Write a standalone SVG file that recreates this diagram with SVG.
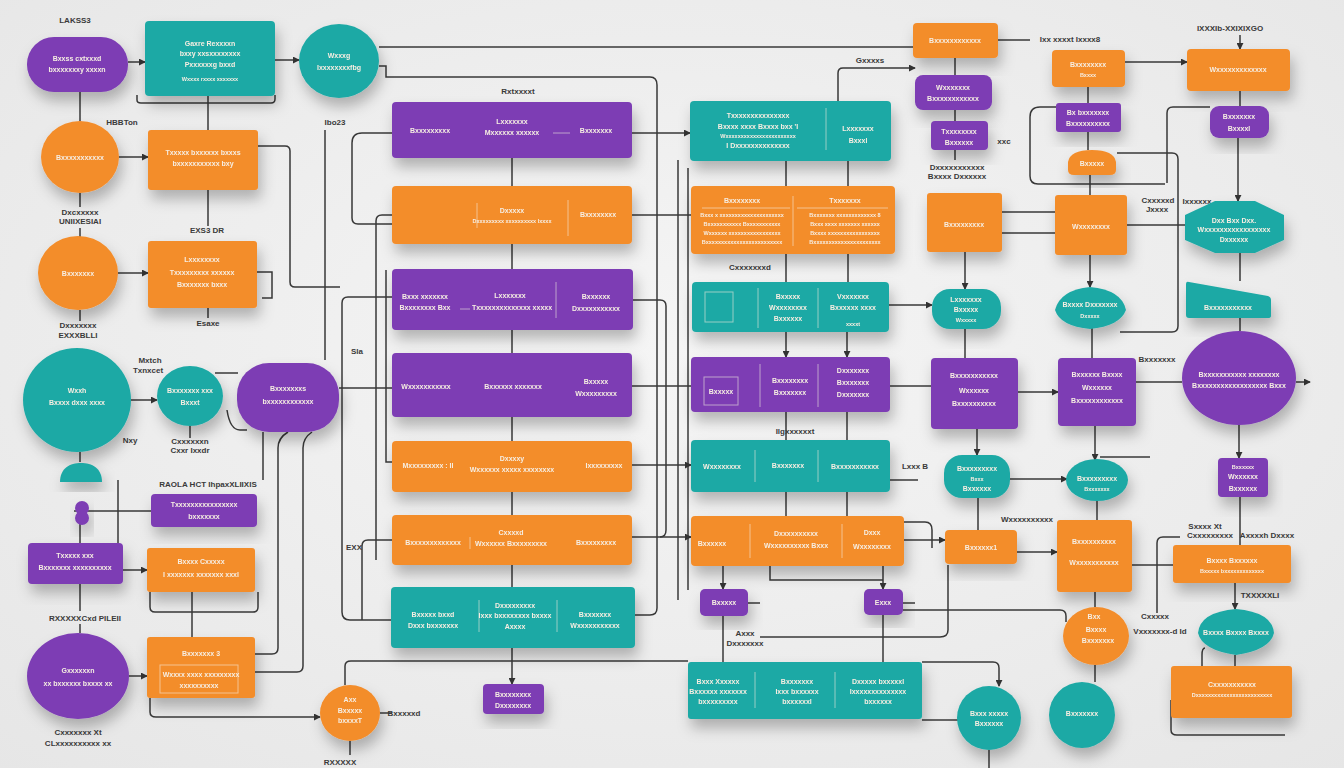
<svg xmlns="http://www.w3.org/2000/svg" width="1344" height="768" viewBox="0 0 1344 768">
<defs>
<radialGradient id="bg" cx="50%" cy="45%" r="75%"><stop offset="0" stop-color="#F5F5F5"/><stop offset="1" stop-color="#E6E6E6"/></radialGradient>
<filter id="sh" x="-30%" y="-30%" width="160%" height="180%"><feDropShadow dx="3" dy="9" stdDeviation="7" flood-color="#000" flood-opacity="0.26"/></filter>
<marker id="ar" viewBox="0 0 8 8" refX="7" refY="4" markerWidth="7" markerHeight="7" markerUnits="userSpaceOnUse" orient="auto"><path d="M0 0 L8 4 L0 8 Z" fill="#333"/></marker>
<style>
.p{fill:#7D3EB4}.t{fill:#1FA9A5}.o{fill:#F38D2C}
.n{filter:url(#sh)}
text{font-family:"Liberation Sans",Arial,sans-serif;font-weight:bold}
.w{fill:#F6EEE2;font-size:7px;text-anchor:middle}
.s{font-size:5.5px}
.l{fill:#3A3A3A;font-size:8px;text-anchor:middle}
.c path{fill:none;stroke:#383838;stroke-width:1.5}
.d{stroke:#F6EEE2;stroke-opacity:0.55;stroke-width:1;fill:none}
</style>
</defs>
<rect width="1344" height="768" fill="url(#bg)"/>

<g class="c" id="connectors">
<path d="M128 62 H145" marker-end="url(#ar)"/>
<path d="M275 60 H299" marker-end="url(#ar)"/>
<path d="M379 47 H913"/>
<path d="M379 66 H386 V77 H650 Q657 77 657 85 V608 Q657 615 650 615 H635"/>
<path d="M80 92 V121"/>
<path d="M208 96 V130"/>
<path d="M137 95 V100 Q137 103 141 103 H271 Q275 103 275 99 V95"/>
<path d="M119 157 H148" marker-end="url(#ar)"/>
<path d="M258 146 H285 Q290 146 290 151 V282 Q290 287 295 287 H340"/>
<path d="M80 193 V207"/>
<path d="M208 190 V226"/>
<path d="M80 228 V237"/>
<path d="M118 273 H148" marker-end="url(#ar)"/>
<path d="M257 272 H272 V298 H262"/>
<path d="M208 308 V318"/>
<path d="M80 310 V321"/>
<path d="M325 130 V360"/>
<path d="M392 133 H362 Q352 133 352 143 V218 Q352 224 358 224 H392"/>
<path d="M392 215 H382 Q376 215 376 221 V560"/>
<path d="M392 297 H348 Q342 297 342 303 V612 Q342 620 350 620 H391"/>
<path d="M339 388 H392"/>
<path d="M392 540 H368 Q362 540 362 546 V620"/>
<path d="M392 462 H386 V270"/>
<path d="M512 158 V186"/><path d="M512 244 V269"/><path d="M512 330 V353"/><path d="M512 417 V441"/><path d="M512 492 V515"/><path d="M512 565 V587"/>
<path d="M512 648 V684" marker-end="url(#ar)"/>
<path d="M632 133 H690" marker-end="url(#ar)"/>
<path d="M632 215 H691"/>
<path d="M632 300 H660 Q666 300 666 306 V530 Q666 537 660 537"/>
<path d="M632 386 H691"/>
<path d="M632 465 H691" marker-end="url(#ar)"/>
<path d="M632 537 H691" marker-end="url(#ar)"/>
<path d="M678 160 V600"/>
<path d="M688 168 V590"/>
<path d="M786 161 V186"/><path d="M848 161 V186"/>
<path d="M786 254 V282"/><path d="M848 254 V282"/>
<path d="M786 332 V357" marker-end="url(#ar)"/><path d="M847 332 V357" marker-end="url(#ar)"/>
<path d="M786 412 V440"/><path d="M847 412 V440"/>
<path d="M786 492 V516"/><path d="M847 492 V516"/>
<path d="M723 566 V589" marker-end="url(#ar)"/><path d="M883 566 V589" marker-end="url(#ar)"/>
<path d="M770 566 V580 H883"/>
<path d="M723 616 V662"/><path d="M883 615 V662"/>
<path d="M748 603 H760"/>
<path d="M903 603 H915"/>
<path d="M838 101 V73 Q838 68 843 68 H915" marker-end="url(#ar)"/>
<path d="M955 58 V75"/><path d="M955 110 V121"/><path d="M955 150 V160"/>
<path d="M965 252 V289" marker-end="url(#ar)"/><path d="M965 329 V358"/>
<path d="M977 429 V455" marker-end="url(#ar)"/><path d="M978 498 V530"/>
<path d="M1088 87 V103"/><path d="M1088 132 V150"/><path d="M1090 175 V195"/>
<path d="M1090 255 V287" marker-end="url(#ar)"/><path d="M1092 328 V358"/>
<path d="M1095 426 V460" marker-end="url(#ar)"/><path d="M1097 501 V520"/>
<path d="M1095 592 V607"/><path d="M1095 665 V682"/>
<path d="M1240 35 V49" marker-end="url(#ar)"/><path d="M1240 91 V106"/>
<path d="M1238 138 V201" marker-end="url(#ar)"/><path d="M1240 253 V281"/>
<path d="M1240 318 V331"/><path d="M1239 425 V458" marker-end="url(#ar)"/>
<path d="M1240 497 V545"/><path d="M1235 583 V609" marker-end="url(#ar)"/><path d="M1235 655 V666"/>
<path d="M998 40 H1030"/>
<path d="M1125 62 H1187" marker-end="url(#ar)"/>
<path d="M1057 107 H1040 Q1030 107 1030 117 V176 Q1030 184 1038 184 H1165"/>
<path d="M1117 153 H1172 Q1178 153 1178 159 V326 Q1178 332 1172 332 H1120"/>
<path d="M1210 107 H1173 Q1167 107 1167 113 V183"/>
<path d="M1002 212 H1055"/>
<path d="M1002 233 H1055"/>
<path d="M1127 225 H1185"/>
<path d="M889 305 H932" marker-end="url(#ar)"/>
<path d="M890 386 H931"/>
<path d="M1018 392 H1058" marker-end="url(#ar)"/>
<path d="M1136 382 H1182"/>
<path d="M1296 382 H1310" marker-end="url(#ar)"/>
<path d="M1010 479 H1067" marker-end="url(#ar)"/>
<path d="M1100 457 H1150"/>
<path d="M890 480 H918"/>
<path d="M1017 552 H1057" marker-end="url(#ar)"/>
<path d="M904 540 H945" marker-end="url(#ar)"/>
<path d="M904 522 H925 Q932 522 932 530 V548"/>
<path d="M760 637 H940 Q948 637 948 630 V565"/>
<path d="M903 610 H1060 Q1066 610 1066 616 V622"/>
<path d="M922 662 H993 Q999 662 999 668 V686" marker-end="url(#ar)"/>
<path d="M922 720 H958"/>
<path d="M1157 613 V543 Q1157 537 1163 537 H1180"/>
<path d="M1132 565 H1173"/>
<path d="M1205 648 Q1202 648 1202 655 V666"/>
<path d="M1171 700 V730 Q1171 735 1177 735 H1285"/>
<path d="M131 400 H157" marker-end="url(#ar)"/>
<path d="M215 373 H238"/>
<path d="M227 410 Q230 430 240 430 H247"/>
<path d="M190 426 V438"/>
<path d="M80 452 V462"/>
<path d="M263 432 V480"/>
<path d="M288 432 Q278 438 278 448 V648 Q278 654 272 654 H255"/>
<path d="M312 432 Q303 438 303 448 V666 Q303 672 297 672 H255"/>
<path d="M118 480 V543"/>
<path d="M74 511 H151"/>
<path d="M80 521 V543"/>
<path d="M123 570 H147" marker-end="url(#ar)"/>
<path d="M150 592 V607 Q150 612 155 612 H253 Q258 612 258 607 V592"/>
<path d="M192 592 V637"/>
<path d="M80 584 V611"/><path d="M80 624 V633"/>
<path d="M129 676 H147" marker-end="url(#ar)"/>
<path d="M150 698 V712 Q150 717 156 717 H320" marker-end="url(#ar)"/>
<path d="M345 685 V666 Q345 661 351 661 H688"/>
<path d="M350 741 V755"/>
<path d="M380 713 H392"/>
<path d="M989 750 V768"/>
</g>

<g id="labels">
<text class="l" x="75" y="23">LAKSS3</text>
<text class="l" x="122" y="125">HBBTon</text>
<text class="l" x="80" y="215">Dxcxxxxx</text>
<text class="l" x="80" y="224">UNIIXESIAI</text>
<text class="l" x="207" y="233">EXS3 DR</text>
<text class="l" x="78" y="328">Dxxxxxxx</text>
<text class="l" x="78" y="338">EXXXBLLI</text>
<text class="l" x="208" y="326">Esaxe</text>
<text class="l" x="335" y="125">Ibo23</text>
<text class="l" x="150" y="363">Mxtch</text>
<text class="l" x="148" y="373">Txnxcet</text>
<text class="l" x="130" y="443">Nxy</text>
<text class="l" x="190" y="444">Cxxxxxxn</text>
<text class="l" x="190" y="453">Cxxr Ixxdr</text>
<text class="l" x="357" y="354">Sla</text>
<text class="l" x="208" y="487">RAOLA HCT IhpaxXLIIXIS</text>
<text class="l" x="85" y="621">RXXXXXCxd PILEII</text>
<text class="l" x="78" y="735">Cxxxxxxx Xt</text>
<text class="l" x="78" y="746">CLxxxxxxxxxx xx</text>
<text class="l" x="518" y="94">Rxtxxxxt</text>
<text class="l" x="404" y="716">Bxxxxxd</text>
<text class="l" x="340" y="765">RXXXXX</text>
<text class="l" x="354" y="550">EXX</text>
<text class="l" x="750" y="270">Cxxxxxxxd</text>
<text class="l" x="795" y="434">Ilgxxxxxxt</text>
<text class="l" x="745" y="636">Axxx</text>
<text class="l" x="745" y="646">Dxxxxxxx</text>
<text class="l" x="870" y="63">Gxxxxs</text>
<text class="l" x="1070" y="42">Ixx xxxxt Ixxxx8</text>
<text class="l" x="1230" y="31">IXXXIb-XXIXIXGO</text>
<text class="l" x="1004" y="144">xxc</text>
<text class="l" x="957" y="170">Dxxxxxxxxxxx</text>
<text class="l" x="957" y="179">Bxxxx Dxxxxxx</text>
<text class="l" x="1158" y="203">Cxxxxxd</text>
<text class="l" x="1157" y="212">Jxxxx</text>
<text class="l" x="1197" y="204">Ixxxxxx</text>
<text class="l" x="1157" y="362">Bxxxxxxx</text>
<text class="l" x="915" y="469">Lxxx B</text>
<text class="l" x="1027" y="522">Wxxxxxxxxxx</text>
<text class="l" x="1205" y="529">Sxxxx Xt</text>
<text class="l" x="1210" y="538">Cxxxxxxxxx</text>
<text class="l" x="1267" y="538">Axxxxh Dxxxx</text>
<text class="l" x="1260" y="598">TXXXXXLI</text>
<text class="l" x="1155" y="619">Cxxxxx</text>
<text class="l" x="1160" y="634">Vxxxxxxx-d Id</text>
</g>

<g id="n1" class="n"><rect class="p" x="27" y="37" width="101" height="55" rx="27"/><text class="w"><tspan x="77" y="61">Bxxss cxtxxxd</tspan><tspan x="77" y="72">bxxxxxxxy xxxxn</tspan></text></g>
<g id="n2" class="n"><rect class="t" x="145" y="21" width="130" height="75" rx="4"/><text class="w"><tspan x="210" y="46">Gaxre Rexxxxn</tspan><tspan x="210" y="56">bxxy xxsxxxxxxxx</tspan><tspan x="210" y="67">Pxxxxxxg bxxd</tspan><tspan class="s" x="210" y="81">Wxxxx rxxxx xxxxxxx</tspan></text></g>
<g id="n3" class="n"><ellipse class="t" cx="339" cy="61" rx="40" ry="37"/><text class="w"><tspan x="339" y="58">Wxxxg</tspan><tspan x="339" y="70">Ixxxxxxxxfbg</tspan></text></g>
<g id="n4" class="n"><ellipse class="o" cx="80" cy="157" rx="39" ry="36"/><text class="w" x="80" y="160">Bxxxxxxxxxxx</text></g>
<g id="n5" class="n"><rect class="o" x="148" y="130" width="110" height="60" rx="3"/><text class="w"><tspan x="203" y="155">Txxxxx bxxxxxx bxxxs</tspan><tspan x="203" y="166">bxxxxxxxxxxx bxy</tspan></text></g>
<g id="n7" class="n"><ellipse class="o" cx="78" cy="273" rx="40" ry="37"/><text class="w" x="78" y="276">Bxxxxxxx</text></g>
<g id="n8" class="n"><rect class="o" x="148" y="241" width="109" height="67" rx="3"/><text class="w"><tspan x="202" y="262">Lxxxxxxxx</tspan><tspan x="202" y="275">Txxxxxxxxx xxxxxx</tspan><tspan x="202" y="287">Bxxxxxxx bxxx</tspan></text></g>
<g id="n10" class="n"><ellipse class="t" cx="77" cy="400" rx="54" ry="52"/><text class="w"><tspan x="77" y="393">Wxxh</tspan><tspan x="77" y="405">Bxxxx dxxx xxxx</tspan></text></g>
<g id="n11" class="n"><path class="t" d="M60 482 C60 468 70 463 81 463 C92 463 102 468 102 482 Z"/></g>
<g id="n12" class="n"><ellipse class="t" cx="190" cy="396" rx="33" ry="30"/><text class="w"><tspan x="190" y="393">Bxxxxxxx xxx</tspan><tspan x="190" y="405">Bxxxt</tspan></text></g>
<g id="n13" class="n"><rect class="p" x="237" y="363" width="102" height="69" rx="32"/><text class="w"><tspan x="288" y="391">Bxxxxxxxs</tspan><tspan x="288" y="404">bxxxxxxxxxxxx</tspan></text></g>
<g id="n14" class="n"><rect class="p" x="151" y="494" width="106" height="33" rx="4"/><text class="w"><tspan x="204" y="507">Txxxxxxxxxxxxxxxx</tspan><tspan x="204" y="519">bxxxxxxx</tspan></text></g>
<g id="n15" class="n"><circle class="p" cx="82" cy="508" r="7"/><circle class="p" cx="82" cy="518" r="7"/></g>
<g id="n16" class="n"><rect class="p" x="28" y="543" width="95" height="41" rx="4"/><text class="w"><tspan x="75" y="558">Txxxxx xxx</tspan><tspan x="75" y="570">Bxxxxxxx xxxxxxxxxx</tspan></text></g>
<g id="n17" class="n"><rect class="o" x="147" y="548" width="108" height="44" rx="3"/><text class="w"><tspan x="201" y="564">Bxxxx Cxxxxx</tspan><tspan x="201" y="577">I xxxxxxx xxxxxxx xxxl</tspan></text></g>
<g id="n19" class="n"><ellipse class="p" cx="78" cy="676" rx="51" ry="43"/><text class="w"><tspan x="78" y="673">Gxxxxxxn</tspan><tspan x="78" y="686">xx bxxxxxx bxxxx xx</tspan></text></g>
<g id="n20" class="n"><rect class="o" x="147" y="637" width="108" height="61" rx="3"/><rect class="d" x="160" y="665" width="78" height="28"/><text class="w"><tspan x="201" y="656">Bxxxxxxx 3</tspan><tspan x="201" y="677">Wxxxx xxxx xxxxxxxxx</tspan><tspan x="199" y="688">xxxxxxxxxx</tspan></text></g>
<g id="n22" class="n"><ellipse class="o" cx="350" cy="713" rx="30" ry="28"/><text class="w"><tspan x="350" y="702">Axx</tspan><tspan x="350" y="713">Bxxxxx</tspan><tspan x="350" y="723">bxxxxT</tspan></text></g>

<g id="n24" class="n"><rect class="p" x="392" y="102" width="240" height="56" rx="4"/><path class="d" d="M553 133 H570"/><text class="w"><tspan x="430" y="133">Bxxxxxxxxx</tspan><tspan x="512" y="124">Lxxxxxxx</tspan><tspan x="512" y="135">Mxxxxxx xxxxxx</tspan><tspan x="596" y="133">Bxxxxxxx</tspan></text></g>
<g id="n25" class="n"><rect class="o" x="392" y="186" width="240" height="58" rx="4"/><path class="d" d="M477 203 V228 M568 200 V236"/><text class="w"><tspan x="512" y="213">Dxxxxx</tspan><tspan class="s" x="512" y="223">Dxxxxxxxxx xxxxxxxxxx Ixxxx</tspan><tspan x="598" y="217">Bxxxxxxxx</tspan></text></g>
<g id="n26" class="n"><rect class="p" x="392" y="269" width="241" height="61" rx="4"/><path class="d" d="M556 282 V318 M460 309 H470"/><text class="w"><tspan x="425" y="299">Bxxx xxxxxxx</tspan><tspan x="425" y="310">Bxxxxxxxx Bxx</tspan><tspan x="510" y="298">Lxxxxxxx</tspan><tspan x="512" y="310">Txxxxxxxxxxxxxx xxxxx</tspan><tspan x="596" y="299">Bxxxxxx</tspan><tspan x="596" y="311">Dxxxxxxxxxxx</tspan></text></g>
<g id="n27" class="n"><rect class="p" x="392" y="353" width="240" height="64" rx="4"/><text class="w"><tspan x="426" y="389">Wxxxxxxxxxxx</tspan><tspan x="513" y="389">Bxxxxxx xxxxxxx</tspan><tspan x="596" y="384">Bxxxxx</tspan><tspan x="596" y="396">Wxxxxxxxxx</tspan></text></g>
<g id="n28" class="n"><rect class="o" x="392" y="441" width="240" height="51" rx="4"/><text class="w"><tspan x="428" y="468">Mxxxxxxxxx : II</tspan><tspan x="512" y="461">Dxxxxy</tspan><tspan x="512" y="472">Wxxxxxx xxxxx xxxxxxxx</tspan><tspan x="604" y="468">Ixxxxxxxxx</tspan></text></g>
<g id="n29" class="n"><rect class="o" x="392" y="515" width="240" height="50" rx="4"/><path class="d" d="M470 537 V549"/><text class="w"><tspan x="433" y="545">Bxxxxxxxxxxxxx</tspan><tspan x="511" y="535">Cxxxxd</tspan><tspan x="511" y="546">Wxxxxxx Bxxxxxxxxx</tspan><tspan x="596" y="545">Bxxxxxxxxx</tspan></text></g>
<g id="n30" class="n"><rect class="t" x="391" y="587" width="244" height="61" rx="4"/><path class="d" d="M479 600 V632 M557 600 V632"/><text class="w"><tspan x="433" y="617">Bxxxxx bxxd</tspan><tspan x="433" y="628">Dxxx bxxxxxxx</tspan><tspan x="515" y="608">Dxxxxxxxxx</tspan><tspan x="515" y="618">Ixxx bxxxxxxxx bxxxx</tspan><tspan x="515" y="629">Axxxx</tspan><tspan x="595" y="617">Bxxxxxxx</tspan><tspan x="595" y="628">Wxxxxxxxxxxx</tspan></text></g>
<g id="n31" class="n"><rect class="p" x="483" y="684" width="61" height="30" rx="4"/><text class="w"><tspan x="513" y="697">Bxxxxxxxx</tspan><tspan x="513" y="708">Dxxxxxxxx</tspan></text></g>

<g id="n32" class="n"><rect class="t" x="690" y="101" width="201" height="60" rx="4"/><path class="d" d="M826 108 V150"/><text class="w"><tspan x="758" y="118">Txxxxxxxxxxxxxxx</tspan><tspan x="758" y="129">Bxxxx xxxx Bxxxx bxx 'I</tspan><tspan class="s" x="758" y="138">Wxxxxxxxxxxxxxxxxxxxxxxx</tspan><tspan x="758" y="148">I Dxxxxxxxxxxxxxx</tspan><tspan x="858" y="131">Lxxxxxxx</tspan><tspan x="858" y="143">Bxxxl</tspan></text></g>
<g id="n33" class="n"><rect class="o" x="691" y="186" width="204" height="68" rx="4"/><path class="d" d="M793 196 V246 M702 208 H790 M797 208 H888"/><text class="w"><tspan x="742" y="203">Bxxxxxxxx</tspan><tspan x="845" y="203">Txxxxxxx</tspan><tspan class="s" x="742" y="217">Bxxx x xxxxxxxxxxxxxxxxxxxxx</tspan><tspan class="s" x="742" y="226">Bxxxxxxxxxxx Bxxxxxxxxxxx</tspan><tspan class="s" x="742" y="235">Wxxxxxx xxxxxxxxxxxxxxxxx</tspan><tspan class="s" x="742" y="244">Bxxxxxxxxxxxxxxxxxxxxxxxxx</tspan><tspan class="s" x="845" y="217">Bxxxxxxx xxxxxxxxxxxxx 8</tspan><tspan class="s" x="845" y="226">Bxxx xxxx xxxxxxx xxxxxx</tspan><tspan class="s" x="845" y="235">Bxxxx xxxxxxxxxxxxxxxxx</tspan><tspan class="s" x="845" y="244">Bxxxxxxxxxxxxxxxxxxxxxx</tspan></text></g>
<g id="n35" class="n"><rect class="t" x="692" y="282" width="197" height="50" rx="4"/><rect class="d" x="705" y="292" width="28" height="30"/><path class="d" d="M758 288 V328 M818 288 V328"/><text class="w"><tspan x="788" y="299">Bxxxxx</tspan><tspan x="788" y="310">Wxxxxxxxx</tspan><tspan x="788" y="321">Bxxxxxx</tspan><tspan x="853" y="299">Vxxxxxxx</tspan><tspan x="853" y="310">Bxxxxxx xxxx</tspan><tspan class="s" x="853" y="326">xxxxt</tspan></text></g>
<g id="n36" class="n"><rect class="p" x="691" y="357" width="199" height="55" rx="4"/><rect class="d" x="704" y="377" width="34" height="28"/><path class="d" d="M760 364 V407 M818 364 V407"/><text class="w"><tspan x="721" y="394">Bxxxxx</tspan><tspan x="790" y="383">Bxxxxxxxx</tspan><tspan x="790" y="395">Bxxxxxxx</tspan><tspan x="853" y="373">Dxxxxxxx</tspan><tspan x="853" y="385">Bxxxxxxx</tspan><tspan x="853" y="397">Dxxxxxxx</tspan></text></g>
<g id="n38" class="n"><rect class="t" x="691" y="440" width="199" height="52" rx="4"/><path class="d" d="M755 450 V482 M818 450 V482"/><text class="w"><tspan x="722" y="469">Wxxxxxxxx</tspan><tspan x="788" y="468">Bxxxxxxx</tspan><tspan x="855" y="469">Bxxxxxxxxxxx</tspan></text></g>
<g id="n39" class="n"><rect class="o" x="691" y="516" width="213" height="50" rx="4"/><path class="d" d="M750 524 V558 M842 524 V558"/><text class="w"><tspan x="712" y="546">Bxxxxxx</tspan><tspan x="796" y="536">Dxxxxxxxxxx</tspan><tspan x="796" y="548">Wxxxxxxxxxx Bxxx</tspan><tspan x="872" y="535">Dxxx</tspan><tspan x="872" y="549">Wxxxxxxxx</tspan></text></g>
<g id="n40a" class="n"><rect class="p" x="700" y="589" width="48" height="27" rx="5"/><text class="w" x="724" y="605">Bxxxxx</text></g>
<g id="n40b" class="n"><rect class="p" x="864" y="589" width="39" height="26" rx="5"/><text class="w" x="883" y="605">Exxx</text></g>
<g id="n42" class="n"><rect class="t" x="688" y="662" width="234" height="57" rx="3"/><path class="d" d="M755 672 V708 M835 672 V708"/><text class="w"><tspan x="718" y="684">Bxxx Xxxxxx</tspan><tspan x="718" y="694">Bxxxxxx xxxxxxx</tspan><tspan x="718" y="704">bxxxxxxxxx</tspan><tspan x="797" y="684">Bxxxxxxx</tspan><tspan x="797" y="694">Ixxx bxxxxxx</tspan><tspan x="797" y="704">bxxxxxxl</tspan><tspan x="878" y="684">Dxxxxx bxxxxxl</tspan><tspan x="878" y="694">Ixxxxxxxxxxxxxx</tspan><tspan x="878" y="704">bxxxxxx</tspan></text></g>

<g id="n43" class="n"><rect class="o" x="913" y="23" width="85" height="35" rx="4"/><text class="w" x="955" y="43">Bxxxxxxxxxxxx</text></g>
<g id="n44" class="n"><rect class="p" x="915" y="75" width="77" height="35" rx="8"/><text class="w"><tspan x="953" y="90">Wxxxxxxx</tspan><tspan x="953" y="101">Bxxxxxxxxxxxx</tspan></text></g>
<g id="n45" class="n"><rect class="p" x="931" y="121" width="57" height="29" rx="4"/><text class="w"><tspan x="959" y="134">Txxxxxxxx</tspan><tspan x="959" y="145">Bxxxxxx</tspan></text></g>
<g id="n47" class="n"><rect class="o" x="927" y="193" width="75" height="59" rx="3"/><text class="w" x="964" y="227">Bxxxxxxxxx</text></g>
<g id="n50" class="n"><rect class="o" x="1052" y="50" width="73" height="37" rx="4"/><text class="w"><tspan x="1088" y="67">Bxxxxxxxx</tspan><tspan class="s" x="1088" y="77">Bxxxx</tspan></text></g>
<g id="n51" class="n"><rect class="p" x="1056" y="103" width="65" height="29" rx="3"/><text class="w"><tspan x="1088" y="115">Bx bxxxxxxx</tspan><tspan x="1088" y="126">Bxxxxxxxxxx</tspan></text></g>
<g id="n52" class="n"><path class="o" d="M1068 170 V162 Q1070 150 1092 150 Q1114 150 1116 162 V170 Q1116 175 1110 175 H1074 Q1068 175 1068 170 Z"/><text class="w" x="1092" y="166">Bxxxxx</text></g>
<g id="n53" class="n"><rect class="o" x="1055" y="195" width="72" height="60" rx="3"/><text class="w" x="1091" y="229">Wxxxxxxxx</text></g>
<g id="n55" class="n"><rect class="o" x="1187" y="49" width="103" height="42" rx="4"/><text class="w" x="1238" y="72">Wxxxxxxxxxxxxx</text></g>
<g id="n56" class="n"><rect class="p" x="1210" y="106" width="59" height="32" rx="9"/><text class="w"><tspan x="1239" y="119">Bxxxxxxx</tspan><tspan x="1239" y="131">Bxxxxl</tspan></text></g>
<g id="n57" class="n"><path class="t" d="M1185 215 L1215 201 H1255 L1284 215 V240 L1255 253 H1215 L1185 240 Z"/><text class="w"><tspan x="1234" y="223">Dxx Bxx Dxx.</tspan><tspan x="1234" y="232">Wxxxxxxxxxxxxxxxxx</tspan><tspan x="1234" y="242">Dxxxxxx</tspan></text></g>
<g id="n58" class="n"><rect class="t" x="932" y="289" width="69" height="40" rx="18"/><text class="w"><tspan x="966" y="302">Lxxxxxxx</tspan><tspan x="966" y="312">Bxxxxx</tspan><tspan class="s" x="966" y="322">Wxxxxx</tspan></text></g>
<g id="n59" class="n"><path class="t" d="M1055 310 Q1060 290 1090 287 Q1122 290 1126 310 Q1120 326 1090 329 Q1060 326 1055 310 Z"/><text class="w"><tspan x="1090" y="307">Bxxxx Dxxxxxxx</tspan><tspan class="s" x="1090" y="318">Dxxxxx</tspan></text></g>
<g id="n60" class="n"><path class="t" d="M1186 284 Q1186 281 1189 282 L1268 296 Q1271 297 1271 300 V316 Q1271 318 1268 318 H1189 Q1186 318 1186 315 Z"/><text class="w" x="1228" y="310">Bxxxxxxxxxxx</text></g>
<g id="n61" class="n"><rect class="p" x="931" y="358" width="87" height="71" rx="4"/><text class="w"><tspan x="974" y="378">Bxxxxxxxxxxx</tspan><tspan x="974" y="393">Wxxxxxx</tspan><tspan x="974" y="406">Bxxxxxxxxxx</tspan></text></g>
<g id="n62" class="n"><rect class="p" x="1058" y="358" width="78" height="68" rx="4"/><text class="w"><tspan x="1097" y="377">Bxxxxxx Bxxxx</tspan><tspan x="1097" y="390">Wxxxxxx</tspan><tspan x="1097" y="403">Bxxxxxxxxxxxx</tspan></text></g>
<g id="n63" class="n"><ellipse class="p" cx="1239" cy="378" rx="57" ry="47"/><text class="w"><tspan x="1239" y="377">Bxxxxxxxxxxx xxxxxxxx</tspan><tspan x="1239" y="388">Bxxxxxxxxxxxxxxxxxx Bxxx</tspan></text></g>
<g id="n64" class="n"><rect class="t" x="944" y="455" width="66" height="43" rx="18"/><text class="w"><tspan x="977" y="471">Bxxxxxxxxx</tspan><tspan class="s" x="977" y="481">Bxxx</tspan><tspan x="977" y="491">Bxxxxxx</tspan></text></g>
<g id="n65" class="n"><ellipse class="t" cx="1097" cy="480" rx="31" ry="21"/><text class="w"><tspan x="1097" y="481">Bxxxxxxxxx</tspan><tspan class="s" x="1097" y="491">Bxxxxxxx</tspan></text></g>
<g id="n66" class="n"><rect class="p" x="1218" y="458" width="50" height="39" rx="4"/><text class="w"><tspan class="s" x="1243" y="469">Bxxxxxx</tspan><tspan x="1243" y="479">Wxxxxxx</tspan><tspan x="1243" y="491">Bxxxxxx</tspan></text></g>
<g id="n68" class="n"><rect class="o" x="945" y="530" width="72" height="34" rx="4"/><text class="w" x="981" y="550">Bxxxxxx1</text></g>
<g id="n69" class="n"><rect class="o" x="1057" y="520" width="75" height="72" rx="3"/><text class="w"><tspan x="1094" y="544">Bxxxxxxxxxx</tspan><tspan x="1094" y="565">Wxxxxxxxxxxx</tspan></text></g>
<g id="n70" class="n"><ellipse class="o" cx="1096" cy="636" rx="33" ry="29"/><text class="w"><tspan x="1094" y="619">Bxx</tspan><tspan x="1096" y="632">Bxxxx</tspan><tspan x="1098" y="643">Bxxxxxxx</tspan></text></g>
<g id="n72" class="n"><rect class="o" x="1173" y="545" width="118" height="38" rx="3"/><text class="w"><tspan x="1232" y="563">Bxxxx Bxxxxxx</tspan><tspan class="s" x="1232" y="573">Bxxxxx bxxxxxxxxxxxxx</tspan></text></g>
<g id="n73" class="n"><path class="t" d="M1198 633 Q1200 612 1236 609 Q1272 612 1274 633 Q1270 650 1236 655 Q1202 650 1198 633 Z"/><text class="w" x="1236" y="635">Bxxxx Bxxxx Bxxxx</text></g>
<g id="n74" class="n"><rect class="o" x="1171" y="666" width="121" height="52" rx="3"/><text class="w"><tspan x="1232" y="687">Cxxxxxxxxxxx</tspan><tspan class="s" x="1232" y="697">Dxxxxxxxxxxxxxxxxxxxxxxxxx</tspan></text></g>
<g id="n76" class="n"><circle class="t" cx="989" cy="718" r="32"/><text class="w"><tspan x="989" y="716">Bxxx xxxxx</tspan><tspan x="989" y="726">Bxxxxxx</tspan></text></g>
<g id="n77" class="n"><circle class="t" cx="1082" cy="715" r="33"/><text class="w" x="1082" y="716">Bxxxxxxx</text></g>
</svg>
